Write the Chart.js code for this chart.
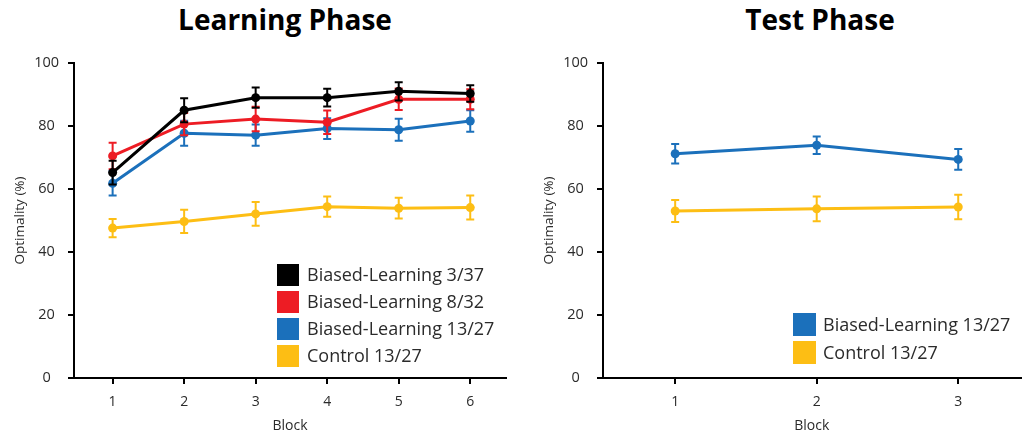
<!DOCTYPE html>
<html>
<head>
<meta charset="utf-8">
<script src="https://cdn.jsdelivr.net/npm/chart.js@4"></script>
<style>
  html, body { margin: 0; padding: 0; background: #fff; }
  #wrap { position: relative; width: 1025px; height: 434px; overflow: hidden; font-family: "Open Sans", sans-serif; }
  .panel { position: absolute; top: 0; height: 434px; }
  .panel canvas { display: block; }
  .ttl { position: absolute; top: 5px; font-weight: 700; font-size: 28px; line-height: 28px; color: #000;
         transform: translateX(-50%); white-space: nowrap; }
</style>
</head>
<body>
<div id="wrap">
  <div class="ttl" style="left:285px">Learning Phase</div>
  <div class="ttl" style="left:820px">Test Phase</div>
  <div class="panel" style="left:0;width:520px"><canvas id="learn" width="520" height="434"></canvas></div>
  <div class="panel" style="left:529px;width:496px"><canvas id="test" width="496" height="434"></canvas></div>
</div>
<script>
// ---- Learning phase: mean optimality (%) per block, with error bars ----
const learnBlocks = [1, 2, 3, 4, 5, 6];
const biased337 = [65.2, 85.0, 89.0, 89.0, 91.0, 90.3];
const biased337Err = [3.8, 3.8, 3.2, 2.8, 2.9, 2.6];
const biased832 = [70.5, 80.6, 82.2, 81.2, 88.5, 88.5];
const biased832Err = [4.2, 3.5, 3.9, 3.7, 3.4, 3.2];
const biased1327 = [61.8, 77.7, 77.1, 79.2, 78.8, 81.6];
const biased1327Err = [3.9, 4.0, 3.4, 3.3, 3.5, 3.4];
const control1327 = [47.6, 49.7, 52.1, 54.4, 53.9, 54.1];
const control1327Err = [2.9, 3.7, 3.8, 3.2, 3.3, 3.8];

// ---- Test phase ----
const testBlocks = [1, 2, 3];
const testBiased1327 = [71.2, 73.9, 69.4];
const testBiased1327Err = [3.1, 2.8, 3.3];
const testControl1327 = [53.0, 53.7, 54.3];
const testControl1327Err = [3.5, 3.9, 3.9];

const yTicks = [0, 20, 40, 60, 80, 100];

const COLORS = { black: '#000000', red: '#ed1c24', blue: '#1b70bb', gold: '#fdbe14' };
const FONT = '"Open Sans", sans-serif';
const TEXT = '#2b2b2b';

const pts = (xs, ys) => xs.map((x, i) => ({ x, y: ys[i] }));

function series(label, color, xs, ys, errs) {
  return {
    label, data: pts(xs, ys), errors: errs,
    borderColor: color, backgroundColor: color,
    borderWidth: 3, tension: 0,
    pointRadius: 4.5, pointBorderWidth: 0, pointBackgroundColor: color
  };
}

// vertical error bars with caps, drawn through the chart scales
const errorBars = {
  id: 'errorBars',
  afterDatasetDraw(chart, args) {
    const ds = chart.data.datasets[args.index];
    if (!ds.errors) return;
    const { ctx } = chart;
    const x = chart.scales.x, y = chart.scales.y;
    ctx.save();
    ctx.strokeStyle = ds.borderColor;
    ctx.lineWidth = 2;
    ds.data.forEach((p, i) => {
      const e = ds.errors[i];
      const px = x.getPixelForValue(p.x);
      const top = y.getPixelForValue(p.y + e);
      const bot = y.getPixelForValue(p.y - e);
      ctx.beginPath();
      ctx.moveTo(px, top); ctx.lineTo(px, bot);
      ctx.moveTo(px - 4, top); ctx.lineTo(px + 4, top);
      ctx.moveTo(px - 4, bot); ctx.lineTo(px + 4, bot);
      ctx.stroke();
    });
    ctx.restore();
  }
};

// square-swatch legend placed inside the plot
const boxLegend = {
  id: 'boxLegend',
  afterDraw(chart, args, opts) {
    const { ctx } = chart;
    ctx.save();
    ctx.font = opts.fontSize + 'px ' + FONT;
    ctx.textBaseline = 'middle';
    ctx.textAlign = 'left';
    chart.data.datasets.forEach((ds, i) => {
      const top = opts.y + i * opts.pitch;
      ctx.fillStyle = ds.borderColor;
      ctx.fillRect(opts.x, top, opts.box, opts.box);
      ctx.fillStyle = TEXT;
      ctx.fillText(ds.label, opts.textX, top + opts.box / 2 + 1);
    });
    ctx.restore();
  }
};

function axes(xMin, xMax) {
  const tickGrid = { display: true, drawOnChartArea: false, drawTicks: true, tickLength: 6, color: '#000', lineWidth: 2 };
  return {
    x: {
      type: 'linear', min: xMin, max: xMax,
      afterFit(s) { s.height = 56; },
      border: { color: '#000', width: 2 },
      grid: tickGrid,
      afterBuildTicks(s) { s.ticks = s.ticks.filter(t => Number.isInteger(t.value)); },
      ticks: { stepSize: 1, includeBounds: false, padding: 10, color: TEXT, font: { family: FONT, size: 14 } },
      title: { display: true, text: 'Block', color: TEXT, font: { family: FONT, size: 14 }, padding: { top: 0, bottom: 0 } }
    },
    y: {
      min: 0, max: 100,
      afterFit(s) { s.width = 74; },
      afterBuildTicks(s) { s.ticks = yTicks.map(v => ({ value: v })); },
      border: { color: '#000', width: 2 },
      grid: tickGrid,
      ticks: { crossAlign: 'center', padding: 9, color: TEXT, font: { family: FONT, size: 14.5 } },
      title: { display: true, text: 'Optimality (%)', color: TEXT, font: { family: FONT, size: 13.5 }, padding: { top: 12, bottom: 0 } }
    }
  };
}

function baseOptions(xMin, xMax, padRight, legendOpts) {
  return {
    responsive: false,
    animation: false,
    layout: { padding: { top: 63, right: padRight, bottom: 0, left: 0 } },
    scales: axes(xMin, xMax),
    plugins: { legend: { display: false }, tooltip: { enabled: false }, boxLegend: legendOpts }
  };
}

new Chart(document.getElementById('learn'), {
  type: 'line',
  data: {
    datasets: [
      series('Biased-Learning 3/37', COLORS.black, learnBlocks, biased337, biased337Err),
      series('Biased-Learning 8/32', COLORS.red, learnBlocks, biased832, biased832Err),
      series('Biased-Learning 13/27', COLORS.blue, learnBlocks, biased1327, biased1327Err),
      series('Control 13/27', COLORS.gold, learnBlocks, control1327, control1327Err)
    ]
  },
  options: baseOptions(0.46, 6.5, 14, { x: 277, y: 264, box: 22, pitch: 27, textX: 307, fontSize: 18 }),
  plugins: [errorBars, boxLegend]
});

new Chart(document.getElementById('test'), {
  type: 'line',
  data: {
    datasets: [
      series('Biased-Learning 13/27', COLORS.blue, testBlocks, testBiased1327, testBiased1327Err),
      series('Control 13/27', COLORS.gold, testBlocks, testControl1327, testControl1327Err)
    ]
  },
  options: baseOptions(0.49, 3.44, 0, { x: 264, y: 313, box: 23, pitch: 28, textX: 294, fontSize: 18 }),
  plugins: [errorBars, boxLegend]
});
</script>
</body>
</html>
